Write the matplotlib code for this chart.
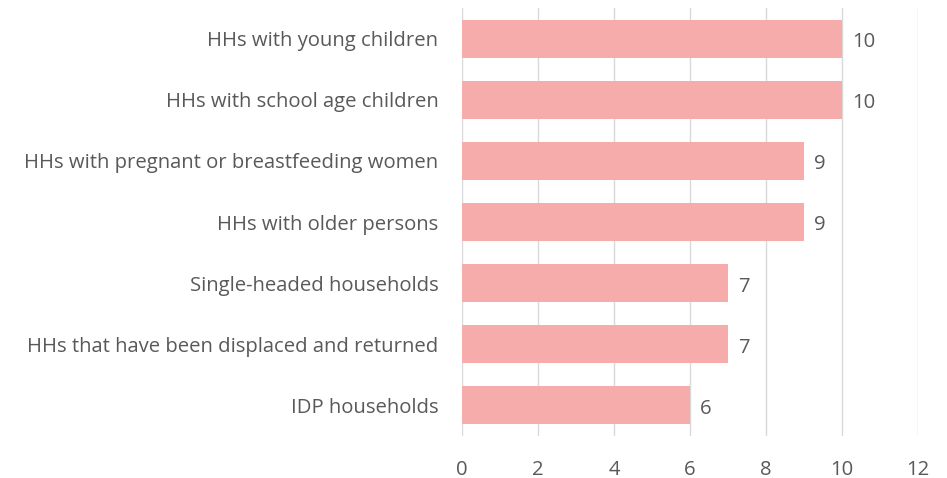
import matplotlib
matplotlib.use("Agg")
import matplotlib.pyplot as plt

categories = [
    "HHs with young children",
    "HHs with school age children",
    "HHs with pregnant or breastfeeding women",
    "HHs with older persons",
    "Single-headed households",
    "HHs that have been displaced and returned",
    "IDP households",
]
values = [10, 10, 9, 9, 7, 7, 6]
x_ticks = [0, 2, 4, 6, 8, 10, 12]

plt.rcParams["font.family"] = ["Open Sans", "DejaVu Sans"]
text_color = "#595959"
bar_color = "#F5ACAB"
fs = 14.6

fig = plt.figure(figsize=(9.47, 4.78), dpi=100)
ax = fig.add_axes([462 / 947, 1 - 436 / 478, (918 - 462) / 947, (436 - 8) / 478])

pos = list(range(len(categories)))
ax.barh(pos, values, height=0.62, color=bar_color, zorder=2)
for p, v in zip(pos, values):
    ax.annotate(str(v), (v, p), xytext=(7, -2.5), textcoords="offset points",
                va="center", ha="left", fontsize=fs, color=text_color)

ax.set_ylim(len(categories) - 0.5, -0.5)
ax.set_xlim(0, 12)
ax.set_xticks(x_ticks)
ax.set_xticklabels([str(t) for t in x_ticks])
ax.set_yticks(pos)
ax.set_yticklabels(categories)
ax.tick_params(axis="x", length=0, pad=17, labelsize=fs, labelcolor=text_color)
ax.tick_params(axis="y", length=0, pad=17, labelsize=fs, labelcolor=text_color)
ax.grid(axis="x", color="#D9D9D9", linewidth=1, zorder=0)
for s in ax.spines.values():
    s.set_visible(False)

fig.savefig("out.png", dpi=100)
